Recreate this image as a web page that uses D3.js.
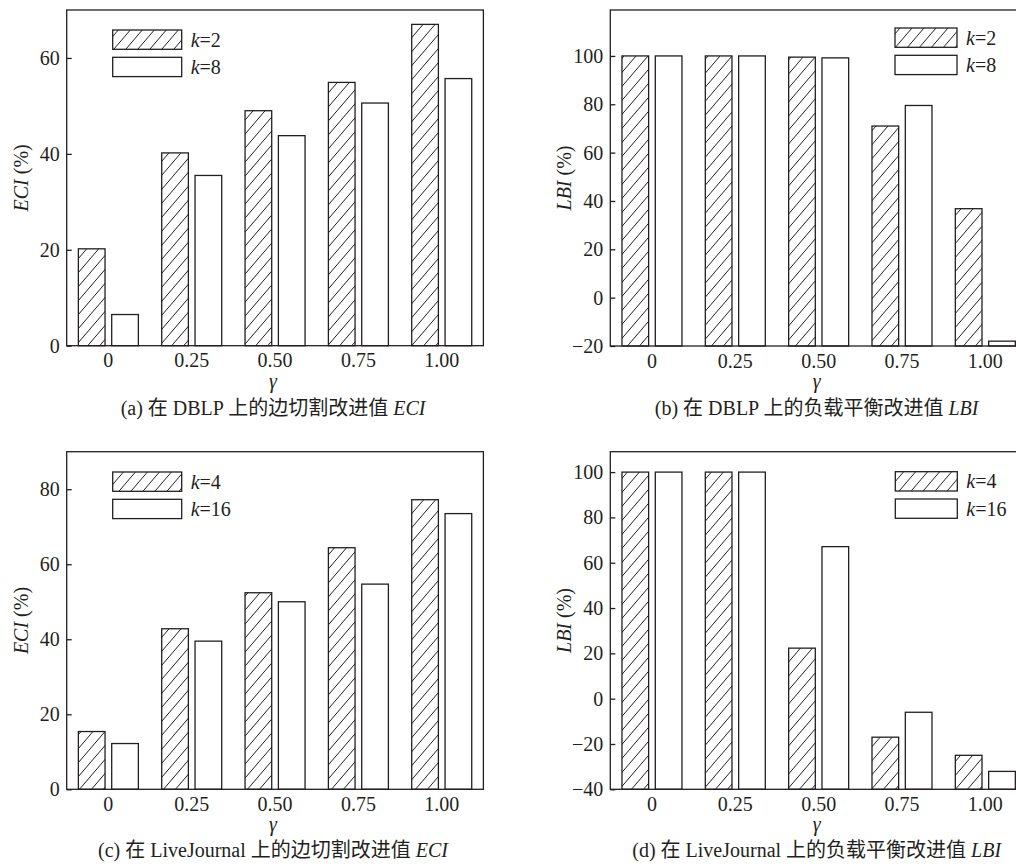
<!DOCTYPE html>
<html>
<head>
<meta charset="utf-8">
<script src="https://cdn.jsdelivr.net/npm/d3@7"></script>
<style>
  html, body { margin: 0; padding: 0; background: #fff; }
  svg { display: block; }
  text { fill: #231f20; font-family: "Liberation Serif", "Times New Roman", "Noto Sans CJK SC", serif; }
</style>
</head>
<body>
<svg id="chart" width="1016" height="866"></svg>
<script>
// ---------------- data ----------------
const categories = ["0", "0.25", "0.50", "0.75", "1.00"];

const dblpEciK2 = [20.2, 40.2, 49.0, 54.9, 67.0];
const dblpEciK8 = [6.5, 35.5, 43.8, 50.6, 55.7];

const dblpLbiK2 = [100, 100, 99.5, 71.0, 36.8];
const dblpLbiK8 = [100, 100, 99.2, 79.5, -18.0];

const ljEciK4 = [15.4, 42.8, 52.4, 64.4, 77.2];
const ljEciK16 = [12.2, 39.5, 50.0, 54.7, 73.5];

const ljLbiK4 = [100, 100, 22.3, -17.0, -25.0];
const ljLbiK16 = [100, 100, 67.1, -6.0, -32.1];

const ticksA = [0, 20, 40, 60];
const ticksB = [-20, 0, 20, 40, 60, 80, 100];
const ticksC = [0, 20, 40, 60, 80];
const ticksD = [-40, -20, 0, 20, 40, 60, 80, 100];

const legendA = ["k=2", "k=8"];
const legendB = ["k=2", "k=8"];
const legendC = ["k=4", "k=16"];
const legendD = ["k=4", "k=16"];

const yLabelA = "ECI", yLabelB = "LBI", yLabelC = "ECI", yLabelD = "LBI";
const captionA = ["(a) 在 DBLP 上的边切割改进值 ", "ECI"];
const captionB = ["(b) 在 DBLP 上的负载平衡改进值 ", "LBI"];
const captionC = ["(c) 在 LiveJournal 上的边切割改进值 ", "ECI"];
const captionD = ["(d) 在 LiveJournal 上的负载平衡改进值 ", "LBI"];

// ---------------- layout ----------------
const INK = "#231f20";
const FS = 20;
const svg = d3.select("#chart");

const defs = svg.append("defs");
const pat = defs.append("pattern")
  .attr("id", "hatch")
  .attr("patternUnits", "userSpaceOnUse")
  .attr("width", 12).attr("height", 14);
pat.append("rect").attr("width", 12).attr("height", 14).attr("fill", "#fff");
pat.append("path")
  .attr("d", "M-3,3.5 L3,-3.5 M0,14 L12,0 M9,17.5 L15,10.5")
  .attr("stroke", INK).attr("stroke-width", 1);

const panels = [
  { left: 66.7, top: 10, bottom: 345.7, domain: [0, 70], ticks: ticksA,
    s1: dblpEciK2, s2: dblpEciK8, legend: legendA, legendX: 112.7, legendY: 30,
    yLabel: yLabelA, caption: captionA, capY: 415, gammaY: 388 },
  { left: 610.3, top: 10, bottom: 346, domain: [-20, 119], ticks: ticksB,
    s1: dblpLbiK2, s2: dblpLbiK8, legend: legendB, legendX: 895, legendY: 28,
    yLabel: yLabelB, caption: captionB, capY: 415, gammaY: 388 },
  { left: 66.7, top: 451.7, bottom: 789.3, domain: [0, 90], ticks: ticksC,
    s1: ljEciK4, s2: ljEciK16, legend: legendC, legendX: 112.7, legendY: 472,
    yLabel: yLabelC, caption: captionC, capY: 857, gammaY: 831 },
  { left: 610.3, top: 451.7, bottom: 789.3, domain: [-40, 109], ticks: ticksD,
    s1: ljLbiK4, s2: ljLbiK16, legend: legendD, legendX: 895.3, legendY: 471.7,
    yLabel: yLabelD, caption: captionD, capY: 857, gammaY: 831 }
];

const PW = 416.7;

panels.forEach(p => {
  const g = svg.append("g");
  const x = d3.scaleBand().domain(categories).range([p.left, p.left + PW]).padding(0);
  const inner = d3.scaleBand().domain(["s1", "s2"]).range([0, 60]).paddingInner(0.2);
  const groupOffset = (x.bandwidth() - 60) / 2;
  const y = d3.scaleLinear().domain(p.domain).range([p.bottom, p.top]);
  const base = y(p.domain[0]);

  const rows = categories.map((c, i) => ({ c, s1: p.s1[i], s2: p.s2[i] }));

  // bars
  ["s1", "s2"].forEach(key => {
    g.selectAll(null).data(rows).enter().append("rect")
      .attr("x", d => x(d.c) + groupOffset + inner(key))
      .attr("width", inner.bandwidth())
      .attr("y", d => y(d[key]))
      .attr("height", d => base - y(d[key]))
      .attr("fill", key === "s1" ? "url(#hatch)" : "#fff")
      .attr("stroke", INK).attr("stroke-width", 1.3);
  });

  // frame
  g.append("rect")
    .attr("x", p.left).attr("y", p.top)
    .attr("width", PW).attr("height", p.bottom - p.top)
    .attr("fill", "none").attr("stroke", INK).attr("stroke-width", 1.3);

  // y axis
  const ya = g.append("g")
    .attr("transform", `translate(${p.left},0)`)
    .call(d3.axisLeft(y).tickValues(p.ticks).tickSizeInner(-5).tickSizeOuter(0).tickPadding(7));
  ya.select(".domain").remove();
  ya.selectAll("line").attr("stroke", INK).attr("stroke-width", 1.3);
  ya.selectAll("text").attr("font-size", FS).attr("fill", INK)
    .attr("font-family", "'Liberation Serif', 'Times New Roman', serif");

  // x axis
  const xa = g.append("g")
    .attr("transform", `translate(0,${p.bottom})`)
    .call(d3.axisBottom(x).tickSize(0).tickPadding(7.5));
  xa.select(".domain").remove();
  xa.selectAll("text").attr("font-size", FS).attr("fill", INK)
    .attr("font-family", "'Liberation Serif', 'Times New Roman', serif");

  const cx = p.left + PW / 2 - 2;

  // gamma label
  g.append("text").attr("x", cx).attr("y", p.gammaY)
    .attr("text-anchor", "middle").attr("font-size", FS).attr("font-style", "italic")
    .text("γ");

  // y label
  const yl = g.append("text")
    .attr("transform", `translate(${p.left - 39},${(p.top + p.bottom) / 2}) rotate(-90)`)
    .attr("text-anchor", "middle").attr("font-size", FS);
  yl.append("tspan").attr("font-style", "italic").text(p.yLabel);
  yl.append("tspan").text(" (%)");

  // caption
  const cap = g.append("text").attr("x", cx).attr("y", p.capY)
    .attr("text-anchor", "middle").attr("font-size", FS);
  cap.append("tspan").text(p.caption[0]);
  cap.append("tspan").attr("font-style", "italic").text(p.caption[1]);

  // legend
  const lw = p.left < 300 ? 69 : 62;
  p.legend.forEach((lab, i) => {
    const ly = p.legendY + i * 27.3;
    g.append("rect").attr("x", p.legendX).attr("y", ly)
      .attr("width", lw).attr("height", 19.3)
      .attr("fill", i === 0 ? "url(#hatch)" : "#fff")
      .attr("stroke", INK).attr("stroke-width", 1.3);
    const t = g.append("text").attr("x", p.legendX + lw + 9).attr("y", ly + 16.5)
      .attr("font-size", FS);
    t.append("tspan").attr("font-style", "italic").text(lab.slice(0, 1));
    t.append("tspan").text(lab.slice(1));
  });
});
</script>
</body>
</html>
